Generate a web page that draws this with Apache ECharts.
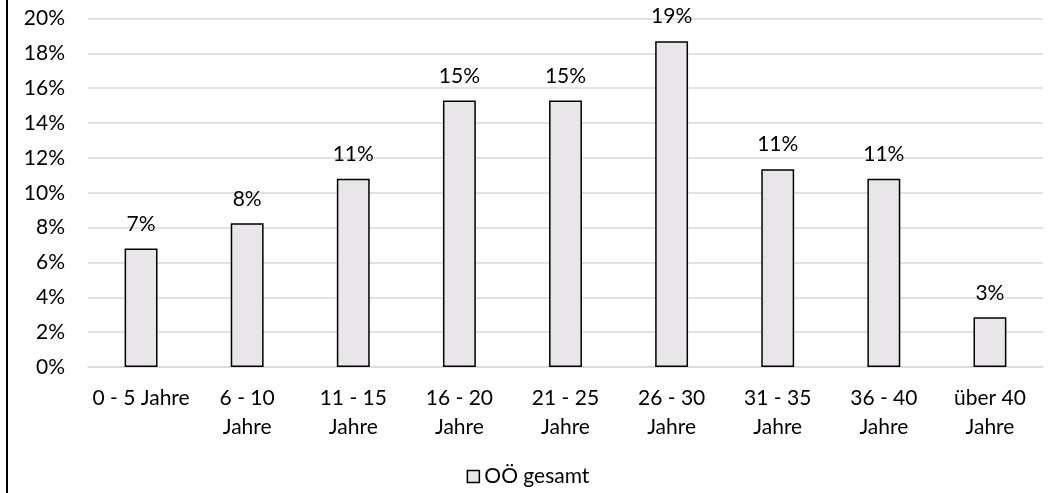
<!DOCTYPE html>
<html><head><meta charset="utf-8">
<script src="https://cdn.jsdelivr.net/npm/echarts@6/dist/echarts.min.js"></script>
<style>html,body{margin:0;padding:0;background:#fff}#c{width:1056px;height:493px}</style>
</head><body><div id="c"></div>
<script>
const categories = ['0 - 5 Jahre','6 - 10\nJahre','11 - 15\nJahre','16 - 20\nJahre','21 - 25\nJahre','26 - 30\nJahre','31 - 35\nJahre','36 - 40\nJahre','über 40\nJahre'];
const values = [6.8, 8.25, 10.8, 15.3, 15.3, 18.7, 11.35, 10.8, 2.85];
const seriesName = 'OÖ gesamt';
const yTicks = [0, 2, 4, 6, 8, 10, 12, 14, 16, 18, 20];

const FONT = 'Lato';
const FS = 21;
const chart = echarts.init(document.getElementById('c'), null, {renderer: 'canvas'});
chart.setOption({
  animation: false,
  textStyle: {fontFamily: FONT},
  grid: {left: 88, right: 13, top: 18.5, bottom: 126, containLabel: false},
  legend: {
    data: [seriesName], bottom: 1, left: 'center',
    itemWidth: 12, itemHeight: 12, itemGap: 4,
    textStyle: {fontSize: FS, color: '#000', fontFamily: FONT},
    itemStyle: {borderColor: '#000', borderWidth: 1.5, color: '#E8E6E8'},
    icon: 'rect'
  },
  xAxis: {
    type: 'category', data: categories,
    axisTick: {show: false},
    axisLine: {lineStyle: {color: '#D9D9D9', width: 1.5}},
    axisLabel: {fontSize: FS, color: '#000', lineHeight: 29, margin: 17, interval: 0, fontFamily: FONT}
  },
  yAxis: {
    type: 'value', min: yTicks[0], max: yTicks[yTicks.length-1], interval: 2,
    axisLine: {show: false}, axisTick: {show: false},
    splitLine: {lineStyle: {color: '#D9D9D9', width: 1.5}},
    axisLabel: {fontSize: FS, color: '#000', margin: 23, formatter: v => v + '%', fontFamily: FONT}
  },
  series: [{
    name: seriesName, type: 'bar', data: values, barWidth: '31%',
    itemStyle: {color: '#E8E6E8', borderColor: '#000', borderWidth: 1.5},
    label: {show: true, position: 'top', distance: 14, fontSize: FS, color: '#000', fontFamily: FONT,
      formatter: p => Math.round(p.value) + '%'}
  }],
  graphic: [{type: 'line', shape: {x1: 7, y1: 0, x2: 7, y2: 493}, style: {stroke: '#000', lineWidth: 2}}]
});
</script></body></html>
